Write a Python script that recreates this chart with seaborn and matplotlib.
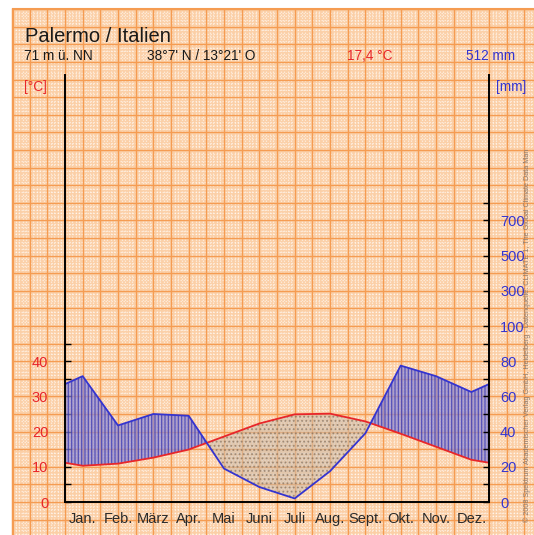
import numpy as np
import pandas as pd
import matplotlib
matplotlib.use("Agg")
import matplotlib.pyplot as plt
import seaborn as sns

# Klimadaten Palermo
months = ["Jan.", "Feb.", "März", "Apr.", "Mai", "Juni", "Juli", "Aug.", "Sept.", "Okt.", "Nov.", "Dez."]
temp = [10.3, 10.9, 12.6, 14.9, 18.6, 22.3, 24.9, 25.1, 22.9, 19.4, 15.7, 12.0]
precip = [71.5, 43.5, 50, 49, 19, 8.5, 2, 17.5, 39, 77.5, 71.5, 62.5]
station = "Palermo / Italien"
elevation = "71 m ü. NN"
coords = "38°7' N / 13°21' O"
mean_temp = "17,4 °C"
sum_precip = "512 mm"
temp_ticks = [0, 10, 20, 30, 40]
mm_labeled = [0, 20, 40, 60, 80, 100, 300, 500, 700]
mm_minor = [10, 30, 50, 70, 90, 200, 400, 600, 800]
credit = ("© 2008 Spektrum Akademischer Verlag GmbH, Heidelberg - Datenquelle: "
          "CLIMATE 1, The Global Climate Data Man")

sns.set_theme(style="white")
plt.rcParams["font.family"] = ["Liberation Sans", "DejaVu Sans"]
plt.rcParams["hatch.linewidth"] = 0.9

RED = "#e8262a"
BLUE = "#3434d0"


def mm_to_t(p):
    # Walter-Lieth scale: 20 mm = 10 °C, above 100 mm compressed 1:10
    p = np.asarray(p, dtype=float)
    return np.where(p <= 100, p / 2.0, 50 + (p - 100) / 20.0)


W, H = 534, 535
fig = plt.figure(figsize=(W / 100, H / 100), dpi=100)
fig.patch.set_facecolor("white")

# --- graph paper background (pixel coordinates) ---
bg = fig.add_axes([0, 0, 1, 1], zorder=0)
bg.set_xlim(0, W)
bg.set_ylim(H, 0)
bg.axis("off")
x0, y0 = 12, 8
bg.add_patch(plt.Rectangle((x0, y0), W - x0, H - y0, facecolor="#fbcfa6", edgecolor="none"))
step_x = 424 / 24
step_y = 17.6
fx = np.arange(65 - 3 * step_x, W, step_x / 5)
fy = np.arange(502 + step_y * 2, y0, -step_y / 5)
bg.vlines(fx, y0, H, colors="white", lw=0.9, alpha=0.55, linestyles=(0, (1.2, 1.2)))
bg.hlines(fy, x0, W, colors="white", lw=0.9, alpha=0.55, linestyles=(0, (1.2, 1.2)))
mx = np.arange(65 - 3 * step_x, W, step_x)
my = np.arange(502 + step_y * 2, y0 - 1, -step_y)
bg.vlines(mx, y0, H, colors="#f59c52", lw=1.0)
bg.hlines(my, x0, W, colors="#f59c52", lw=1.0)
bg.hlines([y0 + 0.5], x0, W, colors="#f59c52", lw=1.5)
bg.vlines([x0 + 0.5], y0, H, colors="#f59c52", lw=1.5)

# header texts
bg.text(25, 42, station, fontsize=14.5, color="#1a1a1a", va="baseline")
bg.text(24, 60, elevation, fontsize=9.8, color="#1a1a1a", va="baseline")
bg.text(147, 60, coords, fontsize=9.8, color="#1a1a1a", va="baseline")
bg.text(347, 60, mean_temp, fontsize=9.8, color=RED, va="baseline")
bg.text(466, 60, sum_precip, fontsize=9.8, color=BLUE, va="baseline")
bg.text(24, 91, "[°C]", fontsize=9.8, color=RED, va="baseline")
bg.text(496, 91, "[mm]", fontsize=9.8, color=BLUE, va="baseline")
bg.text(527, 522, credit, fontsize=5.2, color="#8a7a70", rotation=90,
        ha="left", va="center", rotation_mode="anchor")

# --- climate diagram ---
ymax = 427 / 3.52
ax = fig.add_axes([65 / W, 33 / H, 424 / W, 427 / H], zorder=2)
ax.set_facecolor("none")

edge_t = (temp[0] + temp[-1]) / 2
edge_p = (precip[0] + precip[-1]) / 2
df = pd.DataFrame({
    "x": np.concatenate([[0], np.arange(12) + 0.5, [12]]),
    "t": [edge_t] + temp + [edge_t],
    "p": mm_to_t([edge_p] + precip + [edge_p]),
})

ax.fill_between(df["x"], df["p"], df["t"], where=df["p"] >= df["t"], interpolate=True,
                facecolor="#8e8ad6", alpha=0.7, hatch="|||||", edgecolor="#3030b0", linewidth=0)
ax.fill_between(df["x"], df["p"], df["t"], where=df["p"] < df["t"], interpolate=True,
                facecolor="#cdbfb0", alpha=0.55, hatch="....", edgecolor="#7a6450", linewidth=0)

sns.lineplot(data=df, x="x", y="t", color=RED, lw=1.3, ax=ax)
sns.lineplot(data=df, x="x", y="p", color=BLUE, lw=1.3, ax=ax)

ax.set_xlim(0, 12)
ax.set_ylim(0, ymax)
ax.set_xlabel("")
ax.set_ylabel("")
for s in ["left", "right", "bottom"]:
    ax.spines[s].set_visible(True)
    ax.spines[s].set_color("black")
    ax.spines[s].set_linewidth(1.4)
ax.spines["top"].set_visible(False)

ax.set_xticks(range(1, 12), labels=[""] * 11)
ax.set_xticks(np.arange(12) + 0.5, labels=months, minor=True)
ax.tick_params(axis="x", which="major", direction="in", length=4, width=1.2, color="black")
ax.tick_params(axis="x", which="minor", length=0, pad=7, labelsize=10.5, labelcolor="#2a2a2a")

ax.set_yticks(temp_ticks, labels=[str(v) for v in temp_ticks])
ax.set_yticks([5, 15, 25, 35, 45], minor=True)
ax.tick_params(axis="y", which="both", direction="in", length=4, width=1.0, color="black",
               left=True, right=False)
ax.tick_params(axis="y", which="major", pad=12, labelsize=10.5, labelcolor=RED)

ax2 = ax.twinx()
ax2.set_ylim(0, ymax)
ax2.set_yticks(mm_to_t(mm_labeled), labels=[str(v) for v in mm_labeled])
ax2.set_yticks(mm_to_t(mm_minor), minor=True)
ax2.tick_params(axis="y", which="both", direction="in", length=4, width=1.0, color="black",
                right=True, left=False)
ax2.tick_params(axis="y", which="major", pad=8, labelsize=10.5, labelcolor=BLUE)
ax2.grid(False)
for s in ax2.spines.values():
    s.set_visible(False)
ax.grid(False)

fig.savefig("out.png", dpi=100)
